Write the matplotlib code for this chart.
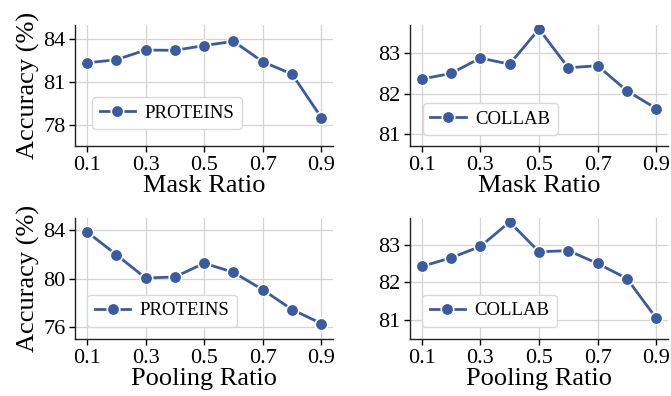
import numpy as np
import matplotlib
matplotlib.use("Agg")
import matplotlib.pyplot as plt

plt.rcParams['font.family'] = ['Liberation Serif', 'DejaVu Serif']
plt.rcParams['mathtext.fontset'] = 'stix'

ratios = [0.1, 0.2, 0.3, 0.4, 0.5, 0.6, 0.7, 0.8, 0.9]
xticks = [0.1, 0.3, 0.5, 0.7, 0.9]

mask_proteins = [82.36, 82.57, 83.25, 83.23, 83.56, 83.86, 82.43, 81.57, 78.53]
mask_collab = [82.36, 82.50, 82.88, 82.73, 83.60, 82.64, 82.69, 82.07, 81.63]
pool_proteins = [83.89, 82.00, 80.06, 80.14, 81.28, 80.53, 79.08, 77.44, 76.28]
pool_collab = [82.42, 82.65, 82.95, 83.60, 82.81, 82.84, 82.50, 82.10, 81.05]

color = "#3B5BA0"

fig = plt.figure(figsize=(6.71, 3.96), dpi=100)
w, h = 0.3845, 0.306
axes = [
    fig.add_axes([0.112, 0.631, w, h]),
    fig.add_axes([0.611, 0.631, w, h]),
    fig.add_axes([0.112, 0.144, w, h]),
    fig.add_axes([0.611, 0.144, w, h]),
]

panels = [
    (mask_proteins, "PROTEINS", "Mask Ratio", [78, 81, 84], (76.55, 85.0), (0.066, 0.14)),
    (mask_collab, "COLLAB", "Mask Ratio", [81, 82, 83], (80.7, 83.7), (0.05, 0.09)),
    (pool_proteins, "PROTEINS", "Pooling Ratio", [76, 80, 84], (75.0, 85.05), (0.047, 0.1)),
    (pool_collab, "COLLAB", "Pooling Ratio", [81, 82, 83], (80.5, 83.71), (0.047, 0.1)),
]

for i, (ax, (vals, lab, xlab, yt, yl, anchor)) in enumerate(zip(axes, panels)):
    ax.plot(ratios, vals, color=color, lw=2, marker='o', markersize=9,
            markeredgecolor='white', markeredgewidth=1.2, label=lab)
    ax.set_xticks(xticks)
    ax.set_xticklabels([str(t) for t in xticks])
    ax.set_yticks(yt)
    ax.set_ylim(*yl)
    ax.set_xlim(0.06, 0.94)
    ax.grid(True, color='#d3d3d3', lw=0.9)
    ax.set_axisbelow(True)
    for s in ['top', 'right']:
        ax.spines[s].set_visible(False)
    for s in ['left', 'bottom']:
        ax.spines[s].set_linewidth(1.0)
        ax.spines[s].set_color('#222222')
    ax.tick_params(labelsize=16, length=4, width=1, direction='out', pad=3)
    ax.set_xlabel(xlab, fontsize=19, labelpad=0)
    if i % 2 == 0:
        ax.set_ylabel("Accuracy (%)", fontsize=19, labelpad=2)
    ax.legend(loc='lower left', fontsize=13.5, frameon=True, fancybox=True,
              edgecolor='#d9d9d9', framealpha=1, borderpad=0.4,
              handlelength=1.9, handletextpad=0.5, borderaxespad=0,
              bbox_to_anchor=anchor)

fig.savefig("out.png", dpi=100)
